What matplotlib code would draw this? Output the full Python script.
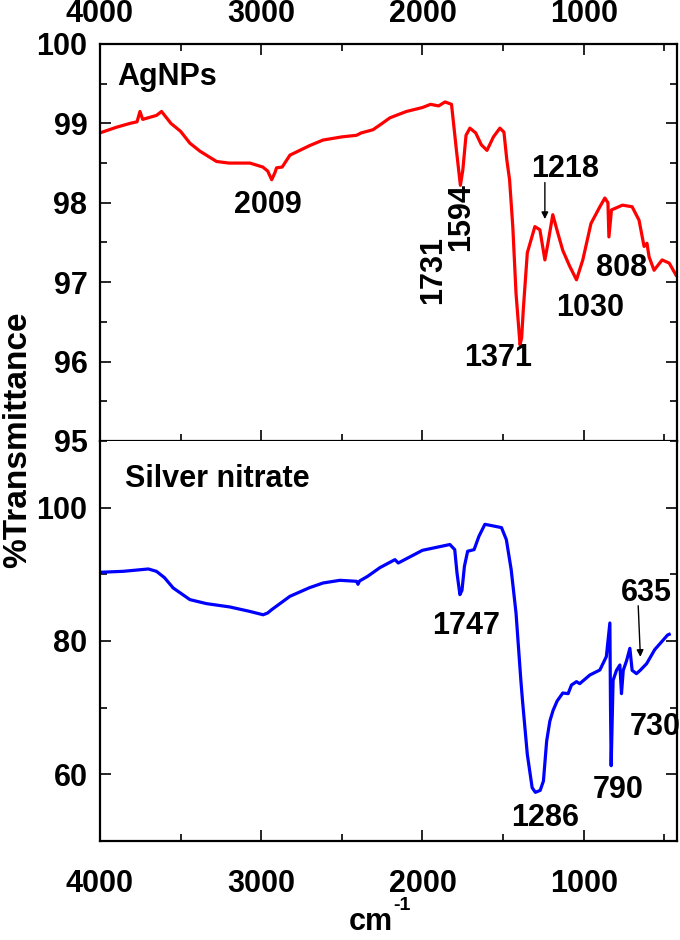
import matplotlib
matplotlib.use('Agg')
import matplotlib.pyplot as plt
from matplotlib.ticker import MultipleLocator

plt.rcParams['font.family'] = ['Liberation Sans', 'DejaVu Sans']
plt.rcParams['font.weight'] = 'bold'

# AgNPs spectrum (wavenumber, %T)
agnp_wn = [4000, 3900, 3814, 3770, 3752, 3735, 3702, 3650, 3618, 3560, 3500, 3442,
           3380, 3277, 3200, 3070, 2990, 2960, 2935, 2915, 2905, 2870, 2822, 2700,
           2617, 2500, 2409, 2380, 2307, 2250, 2202, 2100, 2000, 1950, 1900, 1860,
           1820, 1790, 1765, 1750, 1730, 1706, 1670, 1635, 1600, 1560, 1520, 1495,
           1477, 1460, 1440, 1420, 1395, 1385, 1375, 1350, 1303, 1272, 1241, 1222,
           1192, 1161, 1130, 1087, 1045, 1006, 955, 900, 869, 850, 844, 828, 760,
           700, 657, 626, 608, 595, 564, 514, 470, 428]
agnp_t = [98.88, 98.95, 99.0, 99.02, 99.15, 99.05, 99.07, 99.1, 99.15, 99.0, 98.9, 98.75,
          98.65, 98.52, 98.5, 98.5, 98.45, 98.4, 98.29, 98.38, 98.44, 98.45, 98.6, 98.72,
          98.79, 98.83, 98.85, 98.88, 98.92, 99.0, 99.07, 99.15, 99.2, 99.24, 99.22, 99.27,
          99.24, 98.67, 98.22, 98.41, 98.85, 98.94, 98.88, 98.73, 98.66, 98.83, 98.94, 98.89,
          98.54, 98.29, 97.7, 96.86, 96.21, 96.3, 96.65, 97.37, 97.70, 97.66, 97.28, 97.49,
          97.85, 97.62, 97.4, 97.2, 97.03, 97.28, 97.74, 97.95, 98.06, 98.0, 97.57, 97.91, 97.97,
          97.95, 97.78, 97.45, 97.49, 97.32, 97.15, 97.28, 97.24, 97.09]

# Silver nitrate spectrum
agno3_wn = [4000, 3855, 3700, 3650, 3600, 3546, 3442, 3339, 3194, 3070, 2988, 2960,
            2935, 2822, 2700, 2616, 2512, 2409, 2400, 2390, 2340, 2264, 2171, 2150,
            2000, 1830, 1800, 1786, 1768, 1755, 1740, 1720, 1680, 1650, 1613, 1550,
            1510, 1480, 1450, 1420, 1390, 1380, 1350, 1320, 1300, 1270, 1250, 1230,
            1210, 1190, 1165, 1130, 1097, 1076, 1045, 1025, 962, 900, 860, 838, 834,
            830, 818, 797, 776, 766, 755, 735, 714, 700, 673, 650, 610, 560, 480, 470]
agno3_t = [90.3, 90.45, 90.8, 90.45, 89.5, 87.95, 86.2, 85.6, 85.1, 84.43, 83.93, 84.2,
           84.7, 86.7, 88.0, 88.7, 89.1, 88.95, 88.5, 89.0, 89.7, 91.0, 92.2, 91.7,
           93.6, 94.47, 93.7, 90.2, 86.95, 87.6, 91.2, 93.46, 93.7, 95.7, 97.5, 97.2,
           97.0, 95.2, 90.7, 84.2, 74.1, 71.1, 63.0, 58.0, 57.3, 57.6, 59.0, 65.0,
           68.0, 69.6, 71.0, 72.2, 72.1, 73.4, 73.9, 73.6, 74.9, 75.65, 77.65, 82.7, 70.0,
           61.3, 74.1, 75.6, 76.4, 72.1, 75.6, 77.0, 78.9, 75.6, 75.1, 75.6, 76.6, 78.7, 80.9, 81.0]

xticks = [4000, 3000, 2000, 1000]

fig = plt.figure(figsize=(6.8, 9.4), dpi=100)
ax1 = fig.add_axes([0.147, 0.5309, 0.849, 0.4223])
ax2 = fig.add_axes([0.147, 0.1053, 0.849, 0.4256])

fs = 22

for ax in (ax1, ax2):
    ax.set_xlim(4000, 420)
    ax.set_xticks(xticks)
    ax.xaxis.set_minor_locator(MultipleLocator(500))
    for s in ax.spines.values():
        s.set_linewidth(1.6)
    ax.tick_params(which='both', direction='in', width=1.2, labelsize=fs)
    ax.tick_params(which='major', length=8)
    ax.tick_params(which='minor', length=5)
    ax.tick_params(axis='y', pad=9)

ax1.plot(agnp_wn, agnp_t, color='#ff0000', lw=2.3)
ax1.set_ylim(95, 100)
ax1.yaxis.set_major_locator(MultipleLocator(1))
ax1.yaxis.set_minor_locator(MultipleLocator(0.5))
ax1.tick_params(which='both', top=True, bottom=True, right=True, left=True,
                labeltop=True, labelbottom=False)
ax1.tick_params(axis='x', pad=11)

ax2.plot(agno3_wn, agno3_t, color='#0000ff', lw=2.3)
ax2.set_ylim(50, 110)
ax2.set_yticks([60, 80, 100])
ax2.yaxis.set_minor_locator(MultipleLocator(10))
ax2.tick_params(which='both', top=False, bottom=True, right=True, left=True)
ax2.tick_params(axis='x', pad=20)
ax2.spines['top'].set_visible(False)

for lab in ax1.get_xticklabels() + ax1.get_yticklabels() + ax2.get_xticklabels() + ax2.get_yticklabels():
    lab.set_fontweight('bold')

tk = dict(fontsize=fs, fontweight='bold', ha='center', va='center')
ax1.text(3895, 99.58, 'AgNPs', fontsize=fs, fontweight='bold', ha='left', va='center')
ax1.text(2958, 97.97, '2009', **tk)
ax1.text(1935, 97.15, '1731', rotation=90, **tk)
ax1.text(1758, 97.82, '1594', rotation=90, **tk)
ax1.text(1533, 96.04, '1371', **tk)
ax1.text(1117, 98.42, '1218', **tk)
ax1.text(962, 96.67, '1030', **tk)
ax1.text(766, 97.18, '808', **tk)
ax1.annotate('', xy=(1241, 97.76), xytext=(1241, 98.29),
             arrowprops=dict(arrowstyle='-|>', color='black', lw=1.0, mutation_scale=10))

ax2.text(3845, 104.3, 'Silver nitrate', fontsize=fs, fontweight='bold', ha='left', va='center')
ax2.text(1731, 82.3, '1747', **tk)
ax2.text(1241, 53.4, '1286', **tk)
ax2.text(789, 57.6, '790', **tk)
ax2.text(559, 67.1, '730', **tk)
ax2.text(611, 87.2, '635', **tk)
ax2.annotate('', xy=(648, 77.2), xytext=(663, 85.7),
             arrowprops=dict(arrowstyle='-|>', color='black', lw=1.0, mutation_scale=10))

fig.text(0.026, 1 - 440 / 940, '%Transmittance', rotation=90, fontsize=24,
         fontweight='bold', ha='center', va='center')
fig.text(0.578, 1 - 922 / 940, 'cm', fontsize=fs, fontweight='bold',
         ha='right', va='center')
fig.text(0.579, 1 - 906 / 940, '-1', fontsize=14, fontweight='bold',
         ha='left', va='center')

fig.savefig('out.png', dpi=100)
